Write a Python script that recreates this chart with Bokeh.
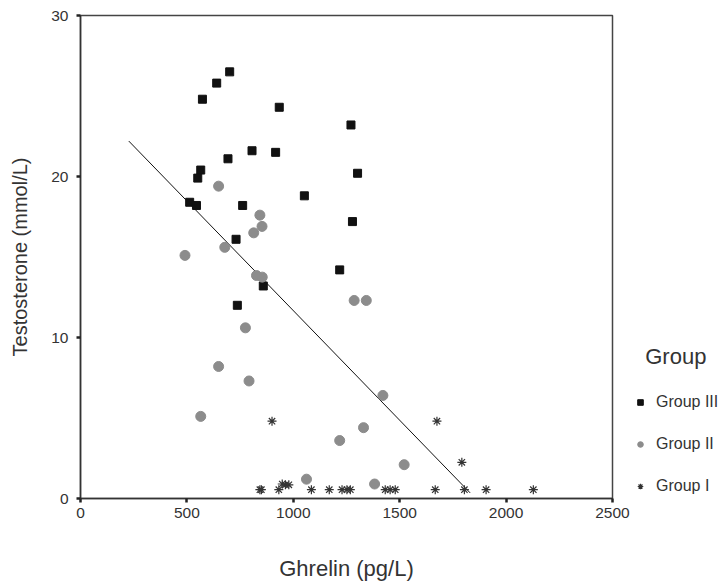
from bokeh.plotting import figure
from bokeh.models import Range1d, Legend, LegendItem, FixedTicker
from bokeh.embed import file_html
from bokeh.resources import INLINE

# ---- data ----
g3_x = [573, 640, 701, 934, 1271, 806, 917, 693, 565, 551, 1302, 513, 545, 762, 1052, 1278, 731, 1218, 859, 737]
g3_y = [24.8, 25.8, 26.5, 24.3, 23.2, 21.6, 21.5, 21.1, 20.4, 19.9, 20.2, 18.4, 18.2, 18.2, 18.8, 17.2, 16.1, 14.2, 13.2, 12.0]

g2_x = [649, 843, 853, 814, 678, 491, 827, 854, 1286, 1343, 775, 649, 792, 565, 1421, 1330, 1218, 1521, 1062, 1382]
g2_y = [19.4, 17.6, 16.9, 16.5, 15.6, 15.1, 13.85, 13.75, 12.3, 12.3, 10.6, 8.2, 7.3, 5.1, 6.4, 4.4, 3.6, 2.1, 1.2, 0.9]

g1_x = [900, 1675, 1792, 843, 850, 932, 948, 963, 979, 1085, 1169, 1229, 1252, 1268,
        1432, 1455, 1479, 1667, 1804, 1906, 2128]
g1_y = [4.8, 4.8, 2.25, 0.55, 0.55, 0.55, 0.9, 0.85, 0.85, 0.55, 0.55, 0.55, 0.55, 0.55,
        0.55, 0.55, 0.55, 0.55, 0.55, 0.55, 0.55]

fit_x = [227, 1831]
fit_y = [22.2, 0.35]

x_ticks = [0, 500, 1000, 1500, 2000, 2500]
y_ticks = [0, 10, 20, 30]

FONT = "Liberation Sans"
TXT = "#333333"

p = figure(frame_width=532, frame_height=483,
           x_range=Range1d(0, 2500), y_range=Range1d(0, 30),
           output_backend="svg", toolbar_location=None,
           min_border_left=80, min_border_top=15, min_border_right=100, min_border_bottom=80)

p.background_fill_color = "white"
p.border_fill_color = "white"
p.grid.visible = False
p.outline_line_color = "#444444"
p.outline_line_width = 1.5

for ax in (p.xaxis[0], p.yaxis[0]):
    ax.axis_line_color = "#333333"
    ax.axis_line_width = 1.5
    ax.major_tick_in = 0
    ax.major_tick_out = 4
    ax.major_tick_line_width = 2.5
    ax.major_tick_line_color = "#222222"
    ax.minor_tick_line_color = None
    ax.major_label_text_font = FONT
    ax.major_label_text_font_size = "15.5px"
    ax.major_label_text_color = TXT
    ax.axis_label_text_font = FONT
    ax.axis_label_text_font_style = "normal"
    ax.axis_label_text_color = TXT

p.xaxis.axis_label_text_font_size = "22px"
p.yaxis.axis_label_text_font_size = "20px"
p.xaxis.ticker = FixedTicker(ticks=x_ticks)
p.yaxis.ticker = FixedTicker(ticks=y_ticks)
p.xaxis.major_label_standoff = 5
p.yaxis.major_label_standoff = 8
p.xaxis.axis_label = "Ghrelin (pg/L)"
p.yaxis.axis_label = "Testosterone (mmol/L)"
p.xaxis.axis_label_standoff = 35
p.yaxis.axis_label_standoff = 17

p.line(fit_x, fit_y, line_color="#111111", line_width=1)

r3 = p.scatter(g3_x, g3_y, marker="square", size=8, fill_color="#111111", line_color="#111111")
r2 = p.scatter(g2_x, g2_y, marker="circle", size=10, fill_color="#8c8c8c", line_color="#8c8c8c")
r1 = p.scatter(g1_x, g1_y, marker="asterisk", size=9, line_color="#333333", line_width=1.2)

legend = Legend(items=[LegendItem(label="Group III", renderers=[r3]),
                       LegendItem(label="Group II", renderers=[r2]),
                       LegendItem(label="Group I", renderers=[r1])],
                location=(21, 2), padding=0, margin=0, spacing=22,
                glyph_width=14, glyph_height=20, label_height=20, label_standoff=9,
                label_text_font=FONT, label_text_font_size="16px", label_text_color=TXT,
                title="\u00a0\u00a0Group", title_text_font=FONT, title_text_font_size="22px",
                title_text_font_style="normal", title_text_color=TXT, title_standoff=22,
                border_line_color=None, background_fill_alpha=0)
p.add_layout(legend, "right")

open("out.html", "w").write(file_html(p, INLINE))
